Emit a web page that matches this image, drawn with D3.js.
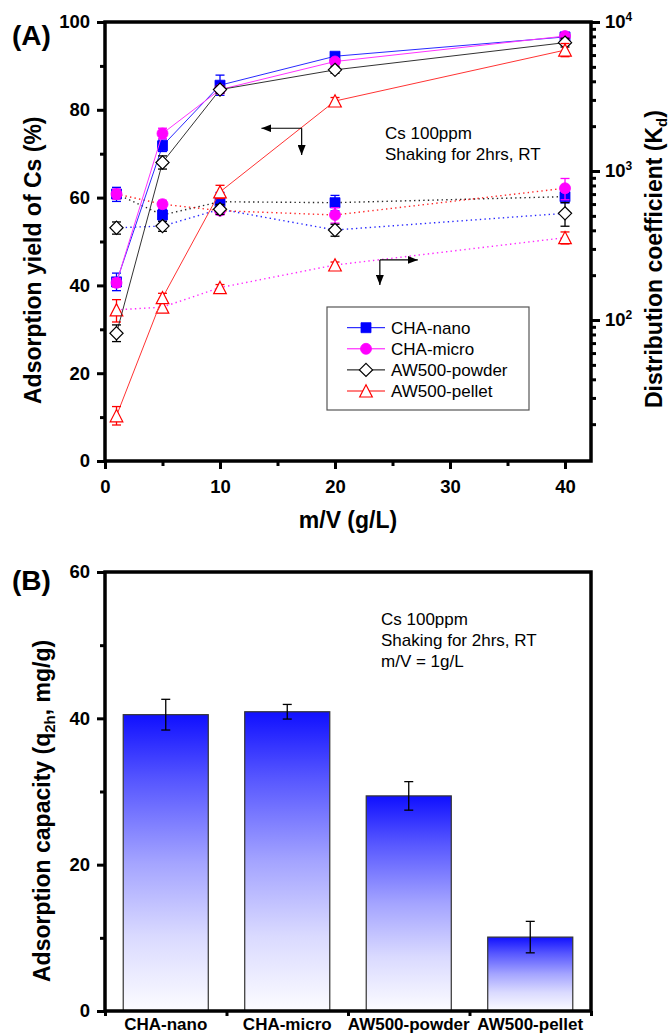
<!DOCTYPE html>
<html>
<head>
<meta charset="utf-8">
<script src="https://cdn.jsdelivr.net/npm/d3@7"></script>
<style>
  body { margin: 0; background: #fff; }
</style>
</head>
<body>
<svg id="fig" width="670" height="1035"></svg>
<script>
// ---------- data ----------
const mvRatios = [1, 5, 10, 20, 40];               // m/V (g/L)
const seriesNames = ["CHA-nano", "CHA-micro", "AW500-powder", "AW500-pellet"];

// adsorption yield of Cs (%) and errors
const yieldNano      = [40.8, 71.8, 85.6, 92.2, 96.6];
const yieldNanoErr   = [2.0, 1.3, 2.3, 0.8, 0.5];
const yieldMicro     = [40.6, 74.6, 84.6, 91.0, 96.8];
const yieldMicroErr  = [1.0, 1.2, 0.8, 0.5, 0.5];
const yieldPowder    = [29.1, 68.0, 84.6, 89.1, 95.3];
const yieldPowderErr = [1.9, 1.5, 0.8, 0.8, 1.0];
const yieldPellet    = [10.3, 37.2, 61.3, 82.0, 93.6];
const yieldPelletErr = [2.1, 1.0, 1.5, 0.8, 1.5];

// distribution coefficient Kd (mL/g) and errors
const kdNano      = [701, 507, 622, 613, 673];
const kdNanoErr   = [76, 47, 96, 73, 62];
const kdMicro     = [701, 599, 542, 507, 766];
const kdMicroErr  = [54, 37, 33, 60, 125];
const kdPowder    = [416, 427, 554, 402, 520];
const kdPowderErr = [39, 33, 43, 37, 94];
const kdPellet    = [117, 122, 165, 234, 357];
const kdPelletErr = [20, 9, 8, 11, 33];

// adsorption capacity at m/V = 1 g/L
const capCategories = ["CHA-nano", "CHA-micro", "AW500-powder", "AW500-pellet"];
const capValues = [40.5, 40.9, 29.4, 10.1];
const capErrors = [2.1, 1.0, 1.95, 2.15];

// tick values
const yieldTicks = [0, 20, 40, 60, 80, 100];
const yieldMinorTicks = [10, 30, 50, 70, 90];
const mvTicks = [0, 10, 20, 30, 40];
const mvMinorTicks = [5, 15, 25, 35];
const kdTicks = [100, 1000, 10000];
const kdMinorTicks = [20, 30, 40, 50, 60, 70, 80, 90, 200, 300, 400, 500, 600, 700, 800, 900,
                      2000, 3000, 4000, 5000, 6000, 7000, 8000, 9000];
const capTicks = [0, 20, 40, 60];
const capMinorTicks = [10, 30, 50];

const annotationA = ["Cs 100ppm", "Shaking for 2hrs, RT"];
const annotationB = ["Cs 100ppm", "Shaking for 2hrs, RT", "m/V = 1g/L"];

// ---------- setup ----------
const FONT = "Arial, 'Liberation Sans', Helvetica, sans-serif";
const svg = d3.select("#fig");
const defs = svg.append("defs");

// arrowhead marker
defs.append("marker")
  .attr("id", "head").attr("markerUnits", "userSpaceOnUse")
  .attr("markerWidth", 11).attr("markerHeight", 8)
  .attr("refX", 10).attr("refY", 4).attr("orient", "auto")
  .append("path").attr("d", "M0,0 L10,4 L0,8 Z").attr("fill", "#000");

// bar gradient: deep blue on top fading to white
const grad = defs.append("linearGradient").attr("id", "barFill")
  .attr("x1", 0).attr("y1", 0).attr("x2", 0).attr("y2", 1);
[[0, "#1010ff"], [0.22, "#5656ff"], [0.5, "#a4a4ff"], [0.75, "#dadaff"], [1, "#fcfcff"]]
  .forEach(([o, c]) => grad.append("stop").attr("offset", o).attr("stop-color", c));

function styleAxis(g, size, weight) {
  g.select(".domain").remove();
  g.selectAll(".tick line").attr("stroke", "#000").attr("stroke-width", 3);
  g.selectAll("text").attr("font-family", FONT).attr("font-weight", weight || "bold")
    .attr("font-size", size).attr("fill", "#000");
}

// marker shapes
function markerPath(type) {
  if (type === "square") return "M-5,-5 H5 V5 H-5 Z";
  if (type === "diamond") return "M0,-6.6 L6.6,0 L0,6.6 L-6.6,0 Z";
  if (type === "triangle") return "M0,-6.2 L6.3,6 L-6.3,6 Z";
  return d3.symbol(d3.symbolCircle, 95)();
}

// ---------- panel A ----------
const A = { left: 105, right: 591, top: 22, bottom: 461 };
const xA = d3.scaleLinear().domain([0, 42.26]).range([A.left, A.right]);
const yA = d3.scaleLinear().domain([0, 100]).range([A.bottom, A.top]);
const kA = d3.scaleLog().domain([11.32, 10000]).range([A.bottom, A.top]);

const seriesStyle = [
  { name: seriesNames[0], color: "#0000ff", lineColor: "#2a2aff", kdLine: "#000000", shape: "square",   fill: "#0000ff", y: yieldNano,   ye: yieldNanoErr,   k: kdNano,   ke: kdNanoErr },
  { name: seriesNames[1], color: "#ff00ff", lineColor: "#ff33ff", kdLine: "#ff0000", shape: "circle",   fill: "#ff00ff", y: yieldMicro,  ye: yieldMicroErr,  k: kdMicro,  ke: kdMicroErr },
  { name: seriesNames[2], color: "#000000", lineColor: "#333333", kdLine: "#0000ff", shape: "diamond",  fill: "#ffffff", y: yieldPowder, ye: yieldPowderErr, k: kdPowder, ke: kdPowderErr },
  { name: seriesNames[3], color: "#ff0000", lineColor: "#ff3333", kdLine: "#ff00ff", shape: "triangle", fill: "#ffffff", y: yieldPellet, ye: yieldPelletErr, k: kdPellet, ke: kdPelletErr }
];

const plotA = svg.append("g");

function drawSeries(g, s, vals, errs, scale, lineColor, dotted) {
  const pts = mvRatios.map((x, i) => ({ x, v: vals[i], e: errs[i] }));
  const line = d3.line().x(d => xA(d.x)).y(d => scale(d.v));
  g.append("path").datum(pts).attr("d", line).attr("fill", "none")
    .attr("stroke", lineColor).attr("stroke-width", dotted ? 1.4 : 1)
    .attr("stroke-opacity", dotted ? 0.85 : 1)
    .attr("stroke-dasharray", dotted ? "1.4,3.2" : null);
  const eb = g.append("g").attr("stroke", s.color).attr("stroke-width", 1.3);
  pts.forEach(d => {
    const x = xA(d.x), y1 = scale(d.v + d.e), y2 = scale(d.v - d.e);
    eb.append("line").attr("x1", x).attr("x2", x).attr("y1", y1).attr("y2", y2);
    eb.append("line").attr("x1", x - 4.5).attr("x2", x + 4.5).attr("y1", y1).attr("y2", y1);
    eb.append("line").attr("x1", x - 4.5).attr("x2", x + 4.5).attr("y1", y2).attr("y2", y2);
  });
  g.selectAll(null).data(pts).enter().append("path")
    .attr("d", markerPath(s.shape))
    .attr("transform", d => `translate(${xA(d.x)},${scale(d.v)})`)
    .attr("fill", s.fill).attr("stroke", s.color).attr("stroke-width", s.fill === "#ffffff" ? 1.2 : 0.8);
}

// Kd layer (dotted) underneath, yield layer (solid) on top
seriesStyle.forEach(s => drawSeries(plotA, s, s.k, s.ke, kA, s.kdLine, true));
seriesStyle.forEach(s => drawSeries(plotA, s, s.y, s.ye, yA, s.lineColor, false));

// axes A
styleAxis(svg.append("g").attr("transform", `translate(${A.left},0)`)
  .call(d3.axisLeft(yA).tickValues(yieldTicks).tickSize(8).tickPadding(7).tickFormat(d3.format("d"))), 18.5);
styleAxis(svg.append("g").attr("transform", `translate(${A.left},0)`)
  .call(d3.axisLeft(yA).tickValues(yieldMinorTicks).tickSize(5).tickFormat("")), 18);
styleAxis(svg.append("g").attr("transform", `translate(0,${A.bottom})`)
  .call(d3.axisBottom(xA).tickValues(mvTicks).tickSize(8).tickPadding(11).tickFormat(d3.format("d"))), 18.5);
styleAxis(svg.append("g").attr("transform", `translate(0,${A.bottom})`)
  .call(d3.axisBottom(xA).tickValues(mvMinorTicks).tickSize(5).tickFormat("")), 18);
const kdAxis = svg.append("g").attr("transform", `translate(${A.right},0)`)
  .call(d3.axisRight(kA).tickValues(kdTicks).tickSize(9).tickPadding(5).tickFormat(d => d));
styleAxis(kdAxis, 18.5);
kdAxis.selectAll(".tick text").each(function (d) {
  const t = d3.select(this);
  t.text("10");
  t.append("tspan").attr("dy", "-0.6em").attr("font-size", 12).text(Math.round(Math.log10(d)));
});
styleAxis(svg.append("g").attr("transform", `translate(${A.right},0)`)
  .call(d3.axisRight(kA).tickValues(kdMinorTicks).tickSize(5).tickFormat("")), 18);

svg.append("rect").attr("x", A.left).attr("y", A.top)
  .attr("width", A.right - A.left).attr("height", A.bottom - A.top)
  .attr("fill", "none").attr("stroke", "#000").attr("stroke-width", 3.5);

// arrows pointing to the relevant axes
const arrows = [
  { corner: [17.1, 75.8], h: 13.6, v: 69.7 },
  { corner: [23.9, 45.8], h: 27.2, v: 40.1 }
];
arrows.forEach(a => {
  const cx = xA(a.corner[0]), cy = yA(a.corner[1]);
  svg.append("line").attr("x1", cx).attr("y1", cy).attr("x2", xA(a.h)).attr("y2", cy)
    .attr("stroke", "#000").attr("stroke-width", 1.2).attr("marker-end", "url(#head)");
  svg.append("line").attr("x1", cx).attr("y1", cy).attr("x2", cx).attr("y2", yA(a.v))
    .attr("stroke", "#000").attr("stroke-width", 1.2).attr("marker-end", "url(#head)");
});

// annotation A
annotationA.forEach((t, i) => svg.append("text").attr("x", 385).attr("y", 139 + i * 20.5)
  .attr("font-family", FONT).attr("font-size", 17).text(t));

// legend
const leg = svg.append("g");
leg.append("rect").attr("x", 327).attr("y", 307).attr("width", 202).attr("height", 103)
  .attr("fill", "#fff").attr("stroke", "#555").attr("stroke-width", 1.2);
seriesStyle.forEach((s, i) => {
  const y = 327.7 + i * 21.1;
  leg.append("line").attr("x1", 347).attr("x2", 385).attr("y1", y).attr("y2", y)
    .attr("stroke", s.color).attr("stroke-width", 1);
  leg.append("path").attr("d", markerPath(s.shape)).attr("transform", `translate(366,${y})`)
    .attr("fill", s.fill).attr("stroke", s.color).attr("stroke-width", s.fill === "#ffffff" ? 1.2 : 0.8);
  leg.append("text").attr("x", 391).attr("y", y + 6).attr("font-family", FONT)
    .attr("font-size", 17).text(s.name);
});

// titles A
svg.append("text").attr("x", 12).attr("y", 45).attr("font-family", FONT)
  .attr("font-weight", "bold").attr("font-size", 28).text("(A)");
svg.append("text").attr("transform", "translate(41,404) rotate(-90)")
  .attr("font-family", FONT).attr("font-weight", "bold").attr("font-size", 23)
  .text("Adsorption yield of Cs (%)");
const kdTitle = svg.append("text").attr("transform", "translate(662,408) rotate(-90)")
  .attr("font-family", FONT).attr("font-weight", "bold").attr("font-size", 23)
  .text("Distribution coefficient (K");
kdTitle.append("tspan").attr("font-size", 15).attr("dy", 5).text("d");
kdTitle.append("tspan").attr("dy", -5).text(")");
svg.append("text").attr("x", (A.left + A.right) / 2).attr("y", 528).attr("text-anchor", "middle")
  .attr("font-family", FONT).attr("font-weight", "bold").attr("font-size", 23).text("m/V (g/L)");

// ---------- panel B ----------
const B = { left: 105, right: 591, top: 572, bottom: 1011 };
const xB = d3.scaleBand().domain(capCategories).range([B.left, B.right]).padding(0);
const xBEdges = d3.scaleLinear().domain([0, capCategories.length]).range([B.left, B.right]);
const yB = d3.scaleLinear().domain([0, 60]).range([B.bottom, B.top]);
const barW = xB.bandwidth() * 0.7;

const bars = svg.append("g");
capCategories.forEach((c, i) => {
  const x0 = xB(c) + (xB.bandwidth() - barW) / 2;
  bars.append("rect").attr("x", x0).attr("y", yB(capValues[i]))
    .attr("width", barW).attr("height", yB(0) - yB(capValues[i]))
    .attr("fill", "url(#barFill)").attr("stroke", "#333").attr("stroke-width", 1.2);
  const cx = xB(c) + xB.bandwidth() / 2;
  const y1 = yB(capValues[i] + capErrors[i]), y2 = yB(capValues[i] - capErrors[i]);
  const eb = bars.append("g").attr("stroke", "#000").attr("stroke-width", 1.3);
  eb.append("line").attr("x1", cx).attr("x2", cx).attr("y1", y1).attr("y2", y2);
  eb.append("line").attr("x1", cx - 4.5).attr("x2", cx + 4.5).attr("y1", y1).attr("y2", y1);
  eb.append("line").attr("x1", cx - 4.5).attr("x2", cx + 4.5).attr("y1", y2).attr("y2", y2);
});

styleAxis(svg.append("g").attr("transform", `translate(${B.left},0)`)
  .call(d3.axisLeft(yB).tickValues(capTicks).tickSize(8).tickPadding(7).tickFormat(d3.format("d"))), 18.5);
styleAxis(svg.append("g").attr("transform", `translate(${B.left},0)`)
  .call(d3.axisLeft(yB).tickValues(capMinorTicks).tickSize(5).tickFormat("")), 18);
styleAxis(svg.append("g").attr("transform", `translate(0,${B.bottom})`)
  .call(d3.axisBottom(xBEdges).tickValues(d3.range(capCategories.length + 1)).tickSize(5).tickFormat("")), 18);
styleAxis(svg.append("g").attr("transform", `translate(0,${B.bottom})`)
  .call(d3.axisBottom(xB).tickSize(0).tickPadding(7)), 17);

svg.append("rect").attr("x", B.left).attr("y", B.top)
  .attr("width", B.right - B.left).attr("height", B.bottom - B.top)
  .attr("fill", "none").attr("stroke", "#000").attr("stroke-width", 3.5);

annotationB.forEach((t, i) => svg.append("text").attr("x", 381).attr("y", 625 + i * 21)
  .attr("font-family", FONT).attr("font-size", 17).text(t));

svg.append("text").attr("x", 12).attr("y", 590).attr("font-family", FONT)
  .attr("font-weight", "bold").attr("font-size", 28).text("(B)");
const capTitle = svg.append("text").attr("transform", "translate(50,982) rotate(-90)")
  .attr("font-family", FONT).attr("font-weight", "bold").attr("font-size", 23)
  .text("Adsorption capacity (q");
capTitle.append("tspan").attr("font-size", 15).attr("dy", 5).text("2h");
capTitle.append("tspan").attr("dy", -5).text(", mg/g)");
</script>
</body>
</html>
